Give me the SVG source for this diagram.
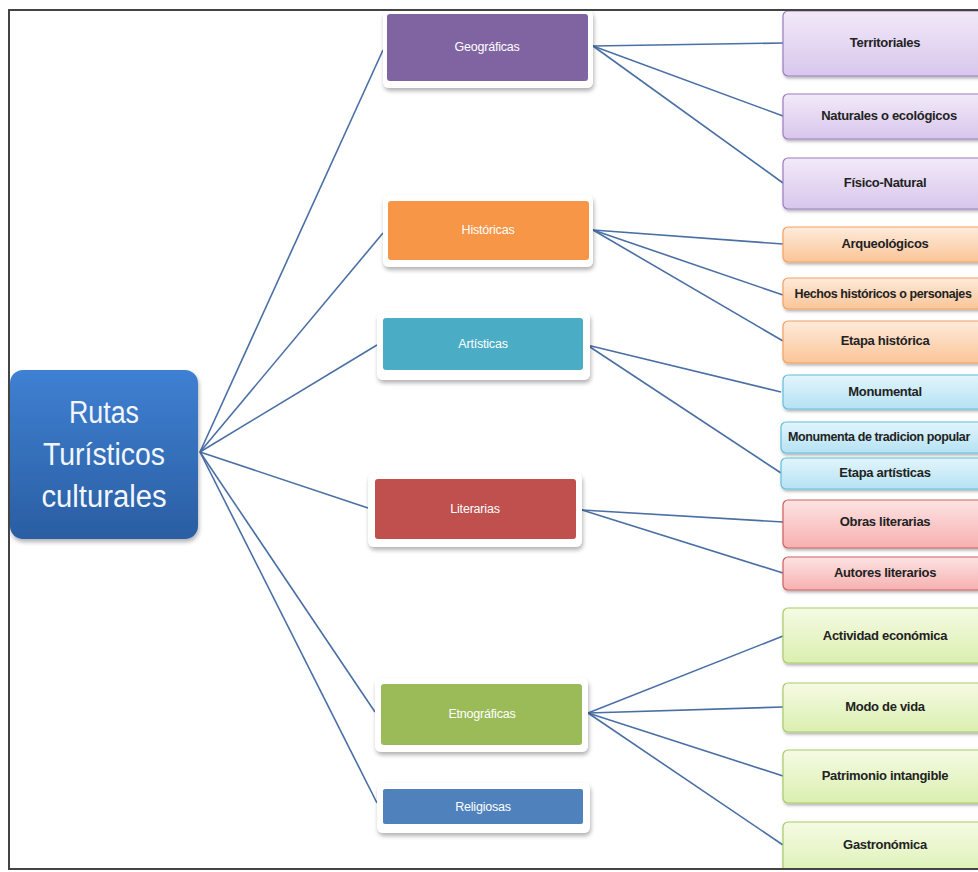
<svg xmlns="http://www.w3.org/2000/svg" width="978" height="872" viewBox="0 0 978 872">
<defs>
<filter id="sh" x="-10%" y="-20%" width="130%" height="150%"><feDropShadow dx="1" dy="3" stdDeviation="2" flood-color="#000" flood-opacity="0.3"/></filter>
<filter id="sh2" x="-10%" y="-20%" width="130%" height="150%"><feDropShadow dx="1" dy="2" stdDeviation="1.5" flood-color="#000" flood-opacity="0.3"/></filter>
<linearGradient id="gMain" x1="0" y1="0" x2="0" y2="1"><stop offset="0" stop-color="#3F80D2"/><stop offset="1" stop-color="#2A5EA3"/></linearGradient>
<linearGradient id="gPur" x1="0" y1="0" x2="0" y2="1"><stop offset="0" stop-color="#F2EAF9"/><stop offset="1" stop-color="#D8C6EC"/></linearGradient>
<linearGradient id="gOra" x1="0" y1="0" x2="0" y2="1"><stop offset="0" stop-color="#FEEBDC"/><stop offset="1" stop-color="#FBC597"/></linearGradient>
<linearGradient id="gCya" x1="0" y1="0" x2="0" y2="1"><stop offset="0" stop-color="#E2F5FC"/><stop offset="1" stop-color="#B5E2F4"/></linearGradient>
<linearGradient id="gRed" x1="0" y1="0" x2="0" y2="1"><stop offset="0" stop-color="#FDE3E3"/><stop offset="1" stop-color="#F7B0B0"/></linearGradient>
<linearGradient id="gGre" x1="0" y1="0" x2="0" y2="1"><stop offset="0" stop-color="#F5FBE4"/><stop offset="1" stop-color="#DBEFAF"/></linearGradient>
</defs>
<style>
.conn line{stroke:#4A6FA5;stroke-width:1.6;fill:none}
.outer{fill:#fff;filter:url(#sh)}
.cat{font-family:"Liberation Sans",Arial,sans-serif;font-size:12.5px;fill:#fff;text-anchor:middle;letter-spacing:-0.2px}
.leaf{font-family:"Liberation Sans",Arial,sans-serif;font-size:13px;font-weight:bold;fill:#222;text-anchor:middle;letter-spacing:-0.3px}
.long{font-size:12.5px;letter-spacing:-0.4px}
.lf{filter:url(#sh2);stroke-width:1.2}
.pur{fill:url(#gPur);stroke:#9A7EC0}
.ora{fill:url(#gOra);stroke:#F5A060}
.cya{fill:url(#gCya);stroke:#62BEDC}
.red{fill:url(#gRed);stroke:#D0605E}
.gre{fill:url(#gGre);stroke:#A8CB68}
.main{font-family:"Liberation Sans",Arial,sans-serif;font-size:31px;fill:#F2F6FC;text-anchor:middle}
</style>
<rect width="978" height="872" fill="#fff"/>

<g class="conn" id="connectors">
<line x1="200" y1="452" x2="383" y2="50"/>
<line x1="200" y1="452" x2="383" y2="233"/>
<line x1="200" y1="452" x2="377" y2="345"/>
<line x1="200" y1="452" x2="368" y2="508"/>
<line x1="200" y1="452" x2="375" y2="712"/>
<line x1="200" y1="452" x2="377" y2="803"/>
<line x1="593" y1="46" x2="783" y2="43"/>
<line x1="593" y1="46" x2="783" y2="116"/>
<line x1="593" y1="46" x2="783" y2="183"/>
<line x1="593" y1="230" x2="783" y2="244"/>
<line x1="593" y1="230" x2="783" y2="295"/>
<line x1="593" y1="230" x2="783" y2="341"/>
<line x1="587" y1="345" x2="781" y2="392"/>
<line x1="587" y1="345" x2="781" y2="473"/>
<line x1="582" y1="510" x2="783" y2="522"/>
<line x1="582" y1="510" x2="783" y2="573"/>
<line x1="588" y1="713" x2="783" y2="636"/>
<line x1="588" y1="713" x2="783" y2="707"/>
<line x1="588" y1="713" x2="783" y2="776"/>
<line x1="588" y1="713" x2="783" y2="845"/>
</g>

<g id="main">
<rect x="10" y="370" width="188" height="169" rx="13" fill="url(#gMain)" filter="url(#sh)"/>
<text class="main" x="104" y="423" textLength="70" lengthAdjust="spacingAndGlyphs">Rutas</text>
<text class="main" x="104" y="465" textLength="122" lengthAdjust="spacingAndGlyphs">Turísticos</text>
<text class="main" x="104" y="507" textLength="125" lengthAdjust="spacingAndGlyphs">culturales</text>
</g>

<g id="geograficas">
<rect class="outer" x="383" y="10" width="210" height="78" rx="6"/>
<rect x="387" y="14" width="201" height="67" rx="3" fill="#8064A2"/>
<text class="cat" x="487" y="51">Geográficas</text>
</g>
<g id="historicas">
<rect class="outer" x="383" y="195" width="210" height="72" rx="6"/>
<rect x="388" y="201" width="201" height="59" rx="3" fill="#F79646"/>
<text class="cat" x="488" y="234">Históricas</text>
</g>
<g id="artisticas">
<rect class="outer" x="377" y="312" width="213" height="68" rx="6"/>
<rect x="383" y="318" width="200" height="52" rx="3" fill="#4BACC6"/>
<text class="cat" x="483" y="348">Artísticas</text>
</g>
<g id="literarias">
<rect class="outer" x="368" y="473" width="214" height="74" rx="6"/>
<rect x="375" y="479" width="201" height="60" rx="3" fill="#C0504D"/>
<text class="cat" x="475" y="513">Literarias</text>
</g>
<g id="etnograficas">
<rect class="outer" x="375" y="678" width="213" height="74" rx="6"/>
<rect x="381" y="684" width="201" height="61" rx="3" fill="#9BBB59"/>
<text class="cat" x="482" y="718">Etnográficas</text>
</g>
<g id="religiosas">
<rect class="outer" x="377" y="783" width="213" height="50" rx="6"/>
<rect x="383" y="789" width="200" height="35" rx="2" fill="#4F81BD"/>
<text class="cat" x="483" y="811">Religiosas</text>
</g>

<g id="territoriales"><rect class="lf pur" x="783" y="11" width="206" height="65" rx="5"/><text class="leaf" x="885" y="47">Territoriales</text></g>
<g id="naturales"><rect class="lf pur" x="783" y="94" width="206" height="45" rx="5"/><text class="leaf" x="889" y="120">Naturales o ecológicos</text></g>
<g id="fisico"><rect class="lf pur" x="783" y="158" width="206" height="51" rx="5"/><text class="leaf" x="885" y="187">Físico-Natural</text></g>

<g id="arqueologicos"><rect class="lf ora" x="783" y="227" width="206" height="35" rx="5"/><text class="leaf" x="885" y="248">Arqueológicos</text></g>
<g id="hechos"><rect class="lf ora" x="783" y="278" width="206" height="31" rx="5"/><text class="leaf long" x="883" y="298">Hechos históricos o personajes</text></g>
<g id="etapa-historica"><rect class="lf ora" x="783" y="321" width="206" height="42" rx="5"/><text class="leaf" x="885" y="345">Etapa histórica</text></g>

<g id="monumental"><rect class="lf cya" x="783" y="375" width="206" height="34" rx="5"/><text class="leaf" x="885" y="396">Monumental</text></g>
<g id="monumenta-popular"><rect class="lf cya" x="781" y="422" width="208" height="31" rx="5"/><text class="leaf long" x="879" y="441">Monumenta de tradicion popular</text></g>
<g id="etapa-artisticas"><rect class="lf cya" x="781" y="458" width="208" height="31" rx="5"/><text class="leaf" x="885" y="477">Etapa artísticas</text></g>

<g id="obras"><rect class="lf red" x="783" y="500" width="206" height="48" rx="5"/><text class="leaf" x="885" y="526">Obras literarias</text></g>
<g id="autores"><rect class="lf red" x="783" y="557" width="206" height="33" rx="5"/><text class="leaf" x="885" y="577">Autores literarios</text></g>

<g id="actividad"><rect class="lf gre" x="783" y="608" width="206" height="55" rx="5"/><text class="leaf" x="885" y="640">Actividad económica</text></g>
<g id="modo"><rect class="lf gre" x="783" y="683" width="206" height="49" rx="5"/><text class="leaf" x="885" y="711">Modo de vida</text></g>
<g id="patrimonio"><rect class="lf gre" x="783" y="750" width="206" height="53" rx="5"/><text class="leaf" x="885" y="780">Patrimonio intangible</text></g>
<g id="gastronomica"><rect class="lf gre" x="783" y="822" width="206" height="60" rx="5"/><text class="leaf" x="885" y="849">Gastronómica</text></g>

<g id="frame" stroke="#444" stroke-width="2" fill="none">
<line x1="8" y1="10" x2="978" y2="10"/>
<line x1="9" y1="9" x2="9" y2="870"/>
<line x1="8" y1="869" x2="978" y2="869"/>
</g>
<rect x="0" y="870" width="978" height="2" fill="#fff"/>
</svg>
